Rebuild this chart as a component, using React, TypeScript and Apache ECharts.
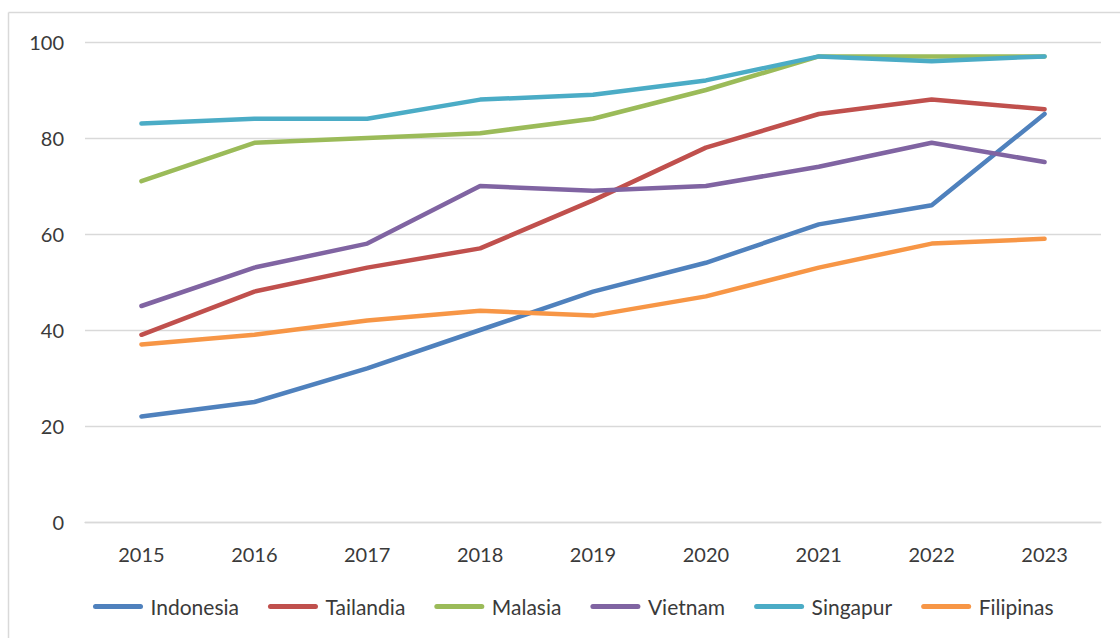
import React, { useEffect, useRef } from "react";
import * as echarts from "echarts";

const years = ["2015", "2016", "2017", "2018", "2019", "2020", "2021", "2022", "2023"];
const seriesNames = ["Indonesia", "Tailandia", "Malasia", "Vietnam", "Singapur", "Filipinas"];
const indonesia = [22, 25, 32, 40, 48, 54, 62, 66, 85];
const tailandia = [39, 48, 53, 57, 67, 78, 85, 88, 86];
const malasia = [71, 79, 80, 81, 84, 90, 97, 97, 97];
const vietnam = [45, 53, 58, 70, 69, 70, 74, 79, 75];
const singapur = [83, 84, 84, 88, 89, 92, 97, 96, 97];
const filipinas = [37, 39, 42, 44, 43, 47, 53, 58, 59];
const colors = ["#4F81BD", "#C0504D", "#9BBB59", "#8064A2", "#4BACC6", "#F79646"];

const allData = [indonesia, tailandia, malasia, vietnam, singapur, filipinas];

export default function App() {
  const ref = useRef<HTMLDivElement>(null);
  useEffect(() => {
    if (!ref.current) return;
    const chart = echarts.init(ref.current, null, { renderer: "svg" });
    const font = "Lato, 'Open Sans', sans-serif";
    chart.setOption({
      animation: false,
      backgroundColor: "#ffffff",
      color: colors,
      textStyle: { fontFamily: font },
      grid: { left: 85, right: 19, top: 42, bottom: 116, containLabel: false },
      graphic: [
        {
          type: "line",
          shape: { x1: 8.5, y1: 12.5, x2: 8.5, y2: 640 },
          style: { stroke: "#D9D9D9", lineWidth: 1.5 },
          silent: true,
        },
        {
          type: "line",
          shape: { x1: 8.5, y1: 12.5, x2: 1122, y2: 12.5 },
          style: { stroke: "#D9D9D9", lineWidth: 1.5 },
          silent: true,
        },
      ],
      legend: {
        data: seriesNames,
        left: 88,
        top: 591,
        itemWidth: 55,
        itemHeight: 5,
        itemGap: 29,
        icon: "path://M5,0 L95,0 A5,5 0 0 1 95,10 L5,10 A5,5 0 0 1 5,0 Z",
        textStyle: { fontFamily: font, fontSize: 21, color: "#3a3a3a" },
      },
      xAxis: {
        type: "category",
        data: years,
        boundaryGap: true,
        axisLine: { show: true, lineStyle: { color: "#D9D9D9", width: 1.3 } },
        axisTick: { show: false },
        axisLabel: { fontFamily: font, fontSize: 20, color: "#3a3a3a", margin: 22 },
        splitLine: { show: false },
      },
      yAxis: {
        type: "value",
        min: 0,
        max: 100,
        interval: 20,
        axisLine: { show: false },
        axisTick: { show: false },
        axisLabel: { fontFamily: font, fontSize: 20, color: "#3a3a3a", margin: 21 },
        splitLine: { show: true, lineStyle: { color: "#D9D9D9", width: 1.3 } },
      },
      series: seriesNames.map((name, i) => ({
        name,
        type: "line",
        data: allData[i],
        symbol: "none",
        showSymbol: false,
        lineStyle: { width: 4.5, color: colors[i], cap: "round", join: "round" },
        itemStyle: { color: colors[i] },
      })),
    });
    return () => chart.dispose();
  }, []);
  return (
    <div
      ref={ref}
      style={{ position: "fixed", left: 0, top: 0, width: 1120, height: 638, background: "#fff" }}
    />
  );
}
